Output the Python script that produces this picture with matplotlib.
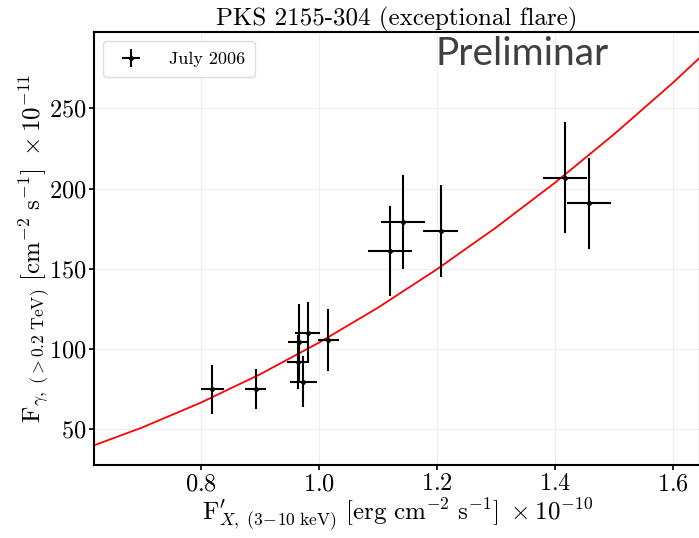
import matplotlib
matplotlib.use("Agg")
import matplotlib.pyplot as plt

plt.rcParams["font.family"] = "serif"
plt.rcParams["font.serif"] = ["cmr10"]
plt.rcParams["mathtext.fontset"] = "cm"
plt.rcParams["axes.formatter.use_mathtext"] = True

# data
fx = [0.820, 0.893, 0.964, 0.966, 0.974, 0.981, 1.016, 1.121, 1.143, 1.206, 1.416, 1.457]
fx_err = [0.020, 0.018, 0.018, 0.018, 0.023, 0.021, 0.018, 0.037, 0.037, 0.030, 0.037, 0.037]
fg = [75.1, 75.1, 92.1, 104.4, 79.7, 110.2, 105.6, 161.3, 179.2, 173.7, 206.8, 190.8]
fg_err = [15.3, 12.5, 17.0, 24.0, 15.8, 19.0, 19.3, 28.0, 29.4, 28.8, 34.6, 28.3]

# fitted curve
curva_x = [0.60, 0.70, 0.80, 0.90, 1.00, 1.10, 1.20, 1.30, 1.40, 1.50, 1.60, 1.70]
curva_y = [37.4, 51.0, 66.6, 84.2, 104.0, 125.8, 149.8, 175.8, 203.8, 234.0, 266.2, 300.6]

fig = plt.figure(figsize=(6.99, 5.38), dpi=100)
ax = fig.add_axes([0.1349, 0.1351, 0.8665, 0.8049])

ax.plot(curva_x, curva_y, color="red", lw=1.3, zorder=2)
ax.errorbar(fx, fg, xerr=fx_err, yerr=fg_err, fmt="o", ms=2.5, color="black",
            ecolor="black", elinewidth=1.5, capsize=0, label="July 2006", zorder=3)

ax.set_xlim(0.62, 1.645)
ax.set_ylim(27.6, 297.4)
ax.set_xticks([0.8, 1.0, 1.2, 1.4, 1.6])
ax.set_yticks([50, 100, 150, 200, 250])
ax.grid(True, color="#eeeeee", lw=0.8)
ax.set_axisbelow(True)
for s in ax.spines.values():
    s.set_linewidth(1.5)
ax.tick_params(labelsize=17.5, length=3.5, width=1.2, pad=2)

ax.set_title("PKS 2155-304 (exceptional flare)", fontsize=18, pad=4)
ax.set_xlabel(r"$\mathrm{F}^{\prime}_{X,\ (3\!-\!10\ \mathrm{keV})}\ [\mathrm{erg\ cm}^{-2}\ \mathrm{s}^{-1}]\ \times 10^{-10}$",
              fontsize=18, labelpad=1)
ax.set_ylabel(r"$\mathrm{F}_{\gamma,\ ({>}0.2\ \mathrm{TeV})}\ [\mathrm{cm}^{-2}\ \mathrm{s}^{-1}]\ \times 10^{-11}$",
              fontsize=18, labelpad=-2)

ax.legend(loc="upper left", fontsize=13, fancybox=True, framealpha=1,
          edgecolor="#dddddd", handletextpad=1.1, borderpad=0.55)
ax.text(0.706, 0.950, "Preliminar", transform=ax.transAxes, fontsize=28,
        family="Lato", color="#404040", ha="center", va="center")

fig.savefig("out.png", dpi=100)
